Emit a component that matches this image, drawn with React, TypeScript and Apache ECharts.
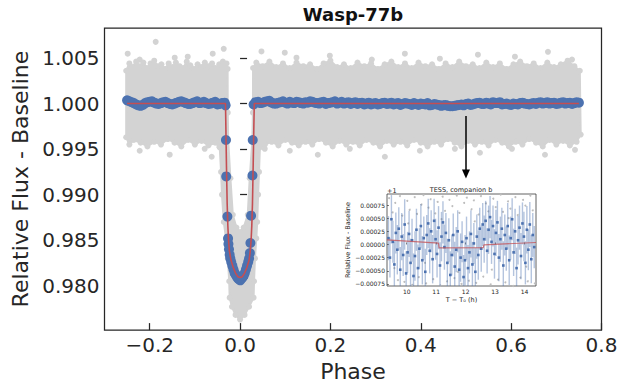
import React, { useEffect, useRef } from "react";
import * as echarts from "echarts";

// ---------- axis ticks ----------
const X_TICKS = [-0.2, 0.0, 0.2, 0.4, 0.6, 0.8];
const Y_TICKS = [0.98, 0.985, 0.99, 0.995, 1.0, 1.005];
const INSET_X_TICKS = [10, 11, 12, 13, 14];
const INSET_Y_TICKS = [-0.00075, -0.0005, -0.00025, 0, 0.00025, 0.0005, 0.00075];

// ---------- main panel: outline of the grey unbinned cloud (phase, flux) ----------
const CLOUD_OUTLINE: number[][] = [
  [-0.252, 1.0036], [-0.245, 1.0044], [-0.238, 1.004], [-0.23, 1.0046], [-0.222, 1.0041], [-0.214, 1.0045],
  [-0.206, 1.0039], [-0.198, 1.0044], [-0.19, 1.0047], [-0.182, 1.0041], [-0.174, 1.0043], [-0.166, 1.0038],
  [-0.158, 1.0044], [-0.15, 1.004], [-0.142, 1.0045], [-0.134, 1.0041], [-0.126, 1.0039], [-0.118, 1.0046],
  [-0.11, 1.0042], [-0.102, 1.0038], [-0.094, 1.0043], [-0.086, 1.004], [-0.078, 1.0045], [-0.07, 1.0041],
  [-0.062, 1.0044], [-0.054, 1.0039], [-0.046, 1.0043], [-0.038, 1.0046], [-0.03, 1.0044], [-0.0275, 1.0038],
  [-0.0272, 0.999], [-0.0262, 0.996], [-0.0213, 0.9918], [-0.016, 0.9878], [-0.008, 0.9864], [0.0, 0.9859],
  [0.008, 0.9864], [0.017, 0.9878], [0.0214, 0.9918], [0.0272, 0.996], [0.0285, 0.999],
  [0.0288, 1.0039], [0.036, 1.0045], [0.05, 1.0041], [0.065, 1.0046], [0.08, 1.004], [0.095, 1.0044],
  [0.11, 1.0039], [0.125, 1.0045], [0.14, 1.0041], [0.155, 1.0043], [0.17, 1.0038], [0.185, 1.0044],
  [0.2, 1.0047], [0.215, 1.004], [0.23, 1.0043], [0.245, 1.0039], [0.26, 1.0045], [0.275, 1.0041],
  [0.29, 1.0044], [0.305, 1.0038], [0.32, 1.0043], [0.335, 1.0046], [0.35, 1.004], [0.365, 1.0044],
  [0.38, 1.0039], [0.395, 1.0045], [0.41, 1.0041], [0.425, 1.0043], [0.44, 1.0038], [0.455, 1.0044],
  [0.47, 1.004], [0.485, 1.0046], [0.5, 1.0041], [0.515, 1.0043], [0.53, 1.0039], [0.545, 1.0045],
  [0.56, 1.004], [0.575, 1.0044], [0.59, 1.0038], [0.605, 1.0043], [0.62, 1.0046], [0.635, 1.0041],
  [0.65, 1.0044], [0.665, 1.0039], [0.68, 1.0045], [0.695, 1.004], [0.71, 1.0043], [0.725, 1.0047],
  [0.74, 1.0041], [0.752, 1.0036],
  [0.754, 0.9966],
  [0.745, 0.9958], [0.73, 0.9954], [0.715, 0.9959], [0.7, 0.9955], [0.685, 0.996], [0.67, 0.9953],
  [0.655, 0.9957], [0.64, 0.9961], [0.625, 0.9955], [0.61, 0.9958], [0.595, 0.9953], [0.58, 0.9957],
  [0.565, 0.996], [0.55, 0.9954], [0.535, 0.9958], [0.52, 0.9955], [0.505, 0.9959], [0.49, 0.9953],
  [0.475, 0.9957], [0.46, 0.9961], [0.445, 0.9955], [0.43, 0.9958], [0.415, 0.9953], [0.4, 0.9957],
  [0.385, 0.996], [0.37, 0.9954], [0.355, 0.9958], [0.34, 0.9955], [0.325, 0.9959], [0.31, 0.9953],
  [0.295, 0.9957], [0.28, 0.996], [0.265, 0.9954], [0.25, 0.9958], [0.235, 0.9955], [0.22, 0.9959],
  [0.205, 0.9953], [0.19, 0.9957], [0.175, 0.9961], [0.16, 0.9955], [0.145, 0.9958], [0.13, 0.9954],
  [0.115, 0.9957], [0.1, 0.996], [0.085, 0.9954], [0.07, 0.9958], [0.055, 0.9955],
  [0.044, 0.9952], [0.042, 0.9925], [0.04, 0.99], [0.038, 0.987], [0.036, 0.9852], [0.033, 0.983],
  [0.031, 0.9805], [0.03, 0.9787], [0.02, 0.9777], [0.01, 0.9768], [0.0, 0.9763], [-0.01, 0.9768],
  [-0.018, 0.9777], [-0.023, 0.9787], [-0.024, 0.9805], [-0.027, 0.983], [-0.031, 0.9852], [-0.036, 0.987],
  [-0.04, 0.99], [-0.042, 0.9925], [-0.045, 0.9952],
  [-0.055, 0.9957], [-0.07, 0.9954], [-0.085, 0.9959], [-0.1, 0.9955], [-0.115, 0.996], [-0.13, 0.9953],
  [-0.145, 0.9957], [-0.16, 0.9961], [-0.175, 0.9955], [-0.19, 0.9958], [-0.205, 0.9953], [-0.22, 0.9957],
  [-0.235, 0.996], [-0.245, 0.9955], [-0.252, 0.9963],
];

// isolated grey points outside the dense cloud
const GRAY_OUTLIERS: number[][] = [
  [-0.1867, 1.00677], [-0.2487, 1.00547], [-0.0361, 1.00601], [-0.0605, 1.00547], [-0.1158, 1.00514],
  [-0.2221, 1.00482], [-0.1446, 1.00503], [0.0474, 1.00572], [0.099, 1.00558], [0.1249, 1.00503],
  [0.1987, 1.00525], [0.2917, 1.00482], [0.3648, 1.00547], [0.4423, 1.00492], [0.5265, 1.00536],
  [0.6084, 1.00514], [0.6815, 1.00568], [0.7347, 1.00482],
  [-0.2221, 0.99482], [-0.1557, 0.99439], [-0.0782, 0.99503], [-0.0627, 0.99416], [-0.0455, 0.99525],
  [0.0547, 0.99503], [0.1101, 0.99482], [0.1721, 0.99438], [0.243, 0.99503], [0.3205, 0.99416],
  [0.398, 0.99482], [0.4755, 0.99503], [0.5309, 0.9946], [0.6018, 0.99503], [0.6749, 0.99438], [0.7413, 0.99492],
];

// binned points (blue)
const BLUE_PHASE = [
  -0.25, -0.24, -0.23, -0.22, -0.21, -0.2, -0.19, -0.18, -0.17, -0.16, -0.15, -0.14, -0.13, -0.12, -0.11,
  -0.1, -0.09, -0.08, -0.07, -0.06, -0.05, -0.04, -0.034,
  -0.032, -0.0312, -0.0306, -0.028, -0.0265, -0.0257, -0.0245, -0.023, -0.0215, -0.0195, -0.017, -0.0145,
  -0.012, -0.0095, -0.007, -0.0045, -0.002, 0.0005, 0.003, 0.0055, 0.008, 0.0105, 0.013, 0.0155, 0.018,
  0.02, 0.0218, 0.023, 0.0244, 0.0275, 0.0281, 0.03,
  0.034, 0.04, 0.05, 0.06, 0.07, 0.08, 0.09, 0.1, 0.11, 0.12, 0.13, 0.14, 0.15, 0.16, 0.17, 0.18, 0.19,
  0.2, 0.21, 0.22, 0.23, 0.24, 0.25, 0.26, 0.27, 0.28, 0.29, 0.3, 0.31, 0.32, 0.33, 0.34, 0.35, 0.36,
  0.37, 0.38, 0.39, 0.4, 0.41, 0.42, 0.43, 0.44, 0.45, 0.46, 0.47, 0.48, 0.49, 0.5, 0.51, 0.52, 0.53,
  0.54, 0.55, 0.56, 0.57, 0.58, 0.59, 0.6, 0.61, 0.62, 0.63, 0.64, 0.65, 0.66, 0.67, 0.68, 0.69, 0.7,
  0.71, 0.72, 0.73, 0.74, 0.75,
];
const BLUE_FLUX = [
  1.00035, 1.00015, 0.9999, 0.99975, 1.00005, 1.0002, 1.0001, 0.99995, 1.00015, 1.00005, 0.9999, 1.0001,
  1.00025, 1.00005, 0.99995, 1.00015, 1.00005, 1.0002, 0.99995, 1.0001, 0.9999, 1.00005, 1.0001,
  0.9998, 0.996, 0.992, 0.9876, 0.9852, 0.9846, 0.984, 0.9834, 0.983, 0.9826, 0.9822, 0.9818,
  0.9814, 0.9812, 0.981, 0.9808, 0.9807, 0.9806, 0.9808, 0.9809, 0.9811, 0.9814, 0.9818, 0.9822, 0.9826,
  0.983, 0.9836, 0.9847, 0.9877, 0.9921, 0.996, 0.9999,
  1.00015, 1.0002, 1.0001, 1.00025, 1.0001, 1.0, 1.00015, 1.0001, 1.0002, 1.00005, 1.00015, 1.0, 1.0001,
  1.0002, 1.00005, 1.00015, 0.99995, 1.0001, 1.00025, 1.0001, 1.0, 1.00015, 1.00005, 0.99995, 1.0001,
  1.0, 0.9999, 1.00005, 0.99995, 1.0001, 1.0, 0.9999, 1.00005, 0.99995, 1.0, 0.99985, 0.99995, 1.0,
  0.9999, 0.9998, 0.99995, 0.99985, 0.9998, 0.99975, 0.9997, 0.9998, 0.9999, 0.99995, 0.99985, 1.0,
  1.0001, 0.99995, 1.0, 1.00015, 1.00005, 0.9999, 1.0, 0.99985, 0.99995, 1.00005, 1.0, 0.9999, 1.00005,
  1.0001, 1.0, 1.00015, 1.00005, 0.99995, 1.0001, 1.0, 1.0001, 1.00005, 1.0001,
];
// additional binned points between the ones above (out of transit)
const BLUE_MID_PHASE = [
  -0.245, -0.235, -0.225, -0.215, -0.205, -0.195, -0.185, -0.175, -0.165, -0.155, -0.145, -0.135, -0.125,
  -0.115, -0.105, -0.095, -0.085, -0.075, -0.065, -0.055, -0.045,
  0.045, 0.055, 0.065, 0.075, 0.085, 0.095, 0.105, 0.115, 0.125, 0.135, 0.145, 0.155, 0.165, 0.175, 0.185,
  0.195, 0.205, 0.215, 0.225, 0.235, 0.245, 0.255, 0.265, 0.275, 0.285, 0.295, 0.305, 0.315, 0.325, 0.335,
  0.345, 0.355, 0.365, 0.375, 0.385, 0.395, 0.405, 0.415, 0.425, 0.435, 0.445, 0.455, 0.465, 0.475, 0.485,
  0.495, 0.505, 0.515, 0.525, 0.535, 0.545, 0.555, 0.565, 0.575, 0.585, 0.595, 0.605, 0.615, 0.625, 0.635,
  0.645, 0.655, 0.665, 0.675, 0.685, 0.695, 0.705, 0.715, 0.725, 0.735, 0.745,
];
const BLUE_MID_FLUX = [
  1.00025, 1.00005, 0.9998, 0.99985, 1.00015, 1.00025, 1.0, 1.00005, 1.0002, 0.99995, 1.0, 1.0002, 1.00015,
  0.99995, 1.00005, 1.00025, 1.0001, 1.00005, 1.0, 1.0002, 0.99995,
  1.00005, 1.0002, 1.0003, 1.0, 1.0001, 1.00025, 1.0, 1.0001, 1.0002, 1.00005, 1.00015, 1.00025, 1.0001,
  1.0, 1.0002, 1.00005, 1.00015, 1.0, 1.0002, 1.0001, 0.99995, 1.00015, 1.00005, 0.9999, 1.0001, 1.0,
  0.9999, 1.00005, 0.99995, 1.0001, 1.0, 0.99985, 1.00005, 0.99995, 1.00005, 0.99985, 0.99995, 1.00005,
  0.99985, 0.9999, 0.99975, 0.99985, 0.9997, 0.99975, 0.99985, 0.9998, 1.0, 0.9999, 1.00005, 0.99995,
  1.0001, 0.9999, 1.00005, 1.00015, 0.99995, 0.9999, 1.0, 0.9999, 1.0001, 0.99995, 1.0, 0.99995, 1.00015,
  1.00005, 1.0, 1.0001, 1.0, 1.00015, 1.00005, 0.99995, 1.00015,
];

// transit model (red)
const MODEL_PHASE = [
  -0.25, -0.0322, -0.0312, -0.03, -0.0285, -0.027, -0.0255, -0.0235, -0.02, -0.015, -0.01, -0.005, 0.0,
  0.005, 0.01, 0.015, 0.02, 0.0225, 0.0245, 0.026, 0.0275, 0.029, 0.0303, 0.0315, 0.75,
];
const MODEL_FLUX = [
  1.0, 1.0, 0.9968, 0.993, 0.989, 0.9866, 0.985, 0.9838, 0.9828, 0.982, 0.9814, 0.981, 0.9809,
  0.981, 0.9814, 0.982, 0.9828, 0.9838, 0.985, 0.9866, 0.989, 0.993, 0.9968, 1.0, 1.0,
];

const ARROW_START = [0.5, 0.99862];
const ARROW_END = [0.5, 0.99226];

// ---------- inset: TESS, companion b ----------
const INSET_GRAY: number[][] = [
  [9.4, 0.00088], [9.52, 0.00061], [9.61, 0.00079], [9.7, -0.00068], [9.77, 0.00092], [9.85, 0.00055],
  [9.92, -0.00071], [10.02, 0.00083], [10.1, 0.00066], [10.19, -0.00077], [10.27, 0.0009], [10.35, 0.00058],
  [10.41, -0.00062], [10.5, 0.00076], [10.57, 0.00094], [10.66, -0.00074], [10.74, 0.0007], [10.81, 0.00086],
  [10.9, -0.00066], [10.97, 0.00059], [11.05, 0.00081], [11.14, -0.00078], [11.22, 0.00091], [11.3, 0.00064],
  [11.37, -0.0007], [11.45, 0.00085], [11.55, 0.00073], [11.62, -0.00064], [11.7, 0.00093], [11.79, 0.0006],
  [11.86, -0.00075], [11.95, 0.00079], [12.04, 0.00089], [12.11, -0.00069], [12.2, 0.00067], [12.28, 0.00084],
  [12.36, -0.00073], [12.44, 0.00057], [12.52, 0.00092], [12.6, -0.00061], [12.69, 0.00078], [12.77, 0.00063],
  [12.85, -0.00076], [12.94, 0.00087], [13.02, 0.00071], [13.1, -0.00067], [13.19, 0.00095], [13.27, 0.00062],
  [13.35, -0.00072], [13.44, 0.00082], [13.52, 0.00068], [13.61, -0.00079], [13.69, 0.0009], [13.77, 0.00056],
  [13.86, -0.00063], [13.95, 0.00085], [14.03, 0.00074], [14.11, -0.0007], [14.2, 0.00093], [14.28, 0.00065],
  [14.35, -0.00074], [9.58, -0.00045], [10.05, 0.0004], [10.62, -0.00035], [11.18, 0.00048], [11.74, -0.00052],
  [12.31, 0.00044], [12.89, -0.00048], [13.46, 0.0005], [14.06, -0.00042],
];

const INSET_HOURS = [
  9.38, 9.43, 9.48, 9.53, 9.58, 9.63, 9.68, 9.73, 9.78, 9.83, 9.88, 9.93, 9.98, 10.03, 10.08, 10.13, 10.18,
  10.23, 10.28, 10.33, 10.38, 10.43, 10.48, 10.53, 10.58, 10.63, 10.68, 10.73, 10.78, 10.83, 10.88, 10.93,
  10.98, 11.03, 11.08, 11.13, 11.18, 11.23, 11.28, 11.33, 11.38, 11.43, 11.48, 11.53, 11.58, 11.63, 11.68,
  11.73, 11.78, 11.83, 11.88, 11.93, 11.98, 12.03, 12.08, 12.13, 12.18, 12.23, 12.28, 12.33, 12.38, 12.43,
  12.48, 12.53, 12.58, 12.63, 12.68, 12.73, 12.78, 12.83, 12.88, 12.93, 12.98, 13.03, 13.08, 13.13, 13.18,
  13.23, 13.28, 13.33, 13.38, 13.43, 13.48, 13.53, 13.58, 13.63, 13.68, 13.73, 13.78, 13.83, 13.88, 13.93,
  13.98, 14.03, 14.08, 14.13, 14.18, 14.23, 14.28, 14.33,
];
const INSET_FLUX_PPM = [
  120, -250, 480, 50, -380, 220, -100, 300, -480, 150,
  -200, 380, -550, -150, 200, -350, 80, -600, -220, 280,
  -450, -80, 350, -300, 120, -520, 180, 400, -120, 250,
  -280, 450, 100, -180, 320, -400, 150, 420, -50, 220,
  -350, 80, -580, -200, 180, -420, -100, 250, -480, -250,
  50, -620, -300, 120, -450, -150, 200, -380, 20, -520,
  150, -200, 300, -80, 380, 100, 450, -120, 280, 520,
  50, 350, -180, 220, 420, -250, 100, 300, -400, 180,
  -80, 350, -300, 120, 480, -150, 250, -450, 80, 320,
  -220, 400, 150, -350, 280, -100, 380, -280, 180, -50,
];
const INSET_ERR_PPM = [
  420, 380, 460, 400, 440, 390, 470, 410, 430, 450,
  400, 480, 420, 390, 440, 460, 410, 430, 470, 400,
  450, 390, 420, 460, 410, 440, 380, 470, 430, 400,
  460, 420, 390, 450, 410, 440, 470, 400, 430, 380,
  460, 420, 450, 390, 410, 470, 430, 400, 440, 460,
  390, 420, 480, 410, 440, 400, 450, 430, 390, 460,
  420, 470, 400, 440, 410, 450, 380, 430, 460, 400,
  420, 390, 470, 440, 410, 450, 430, 400, 460, 390,
  420, 440, 470, 410, 400, 450, 430, 390, 460, 420,
  440, 400, 470, 410, 450, 390, 430, 460, 420, 400,
];
const INSET_MODEL_HOURS = [9.33, 11.08, 11.1, 12.6, 12.62, 14.39];
const INSET_MODEL_PPM = [88, 24, -65, -62, -6, 37];

// ---------- styles ----------
const FONT = "DejaVu Sans";
const INK = "#262626";
const GRAY = "#d3d3d3";
const BLUE = "#4C72B0";
const RED = "#C44E52";

const withMinus = (v: number, d: number) => {
  const s = Math.abs(v).toFixed(d);
  return v < -1e-12 ? "\u2212" + s : s;
};

function buildOption() {
  const blue = BLUE_PHASE.map((p, i) => [p, BLUE_FLUX[i]]).concat(
    BLUE_MID_PHASE.map((p, i) => [p, BLUE_MID_FLUX[i]])
  );
  const model = MODEL_PHASE.map((p, i) => [p, MODEL_FLUX[i]]);
  const insetPts = INSET_HOURS.map((h, i) => [h, INSET_FLUX_PPM[i] / 1e6, INSET_ERR_PPM[i] / 1e6]);
  const insetModel = INSET_MODEL_HOURS.map((h, i) => [h, INSET_MODEL_PPM[i] / 1e6]);

  return {
    animation: false,
    textStyle: { fontFamily: FONT },
    grid: [
      { left: 104.5, top: 28, right: 36.5, bottom: 54, show: true, borderColor: INK, borderWidth: 1.25, backgroundColor: "transparent" },
      { left: 387, top: 194, width: 149, height: 92, show: true, borderColor: "#3a3a3a", borderWidth: 0.8, backgroundColor: "#ffffff" },
    ],
    xAxis: [
      {
        type: "value", gridIndex: 0, min: -0.3, max: 0.8,
        axisLine: { show: false },
        splitLine: { show: false },
        axisTick: { show: true, inside: true, length: 7, customValues: X_TICKS, lineStyle: { color: INK, width: 1.25 } },
        axisLabel: { customValues: X_TICKS, fontSize: 20, color: INK, margin: 5, fontFamily: FONT, formatter: (v: number) => withMinus(v, 1) },
        name: "Phase", nameLocation: "middle", nameGap: 29,
        nameTextStyle: { fontSize: 22, color: INK, fontFamily: FONT },
      },
      {
        type: "value", gridIndex: 1, min: 9.33, max: 14.39,
        axisLine: { show: false },
        splitLine: { show: false },
        axisTick: { show: true, inside: true, length: 2, customValues: INSET_X_TICKS, lineStyle: { color: INK, width: 0.6 } },
        axisLabel: { customValues: INSET_X_TICKS, fontSize: 6, color: INK, margin: 2, fontFamily: FONT, formatter: (v: number) => String(Math.round(v)) },
        name: "T \u2212 T\u2080 (h)", nameLocation: "middle", nameGap: 10,
        nameTextStyle: { fontSize: 6.5, color: INK, fontFamily: FONT },
      },
    ],
    yAxis: [
      {
        type: "value", gridIndex: 0, min: 0.97514, max: 1.00829,
        axisLine: { show: false },
        splitLine: { show: false },
        axisTick: { show: true, inside: true, length: 7, customValues: Y_TICKS, lineStyle: { color: INK, width: 1.25 } },
        axisLabel: { customValues: Y_TICKS, fontSize: 20, color: INK, margin: 5, fontFamily: FONT, formatter: (v: number) => v.toFixed(3) },
        name: "Relative Flux - Baseline", nameLocation: "middle", nameGap: 61,
        nameTextStyle: { fontSize: 22, color: INK, fontFamily: FONT },
      },
      {
        type: "value", gridIndex: 1, min: -0.00079, max: 0.00096,
        axisLine: { show: false },
        splitLine: { show: false },
        axisTick: { show: true, inside: true, length: 2, customValues: INSET_Y_TICKS, lineStyle: { color: INK, width: 0.6 } },
        axisLabel: { customValues: INSET_Y_TICKS, fontSize: 6, color: INK, margin: 2, fontFamily: FONT, formatter: (v: number) => withMinus(v, 5) },
        name: "Relative Flux - Baseline", nameLocation: "middle", nameGap: 28,
        nameTextStyle: { fontSize: 6.5, color: INK, fontFamily: FONT },
      },
    ],
    graphic: [
      { type: "text", x: 353, y: 14, z: 10, style: { text: "Wasp-77b", fill: "#111", font: `bold 18px "${FONT}"`, textAlign: "center", textVerticalAlign: "middle" } },
      { type: "text", x: 461, y: 189.5, z: 10, style: { text: "TESS, companion b", fill: INK, font: `6.5px "${FONT}"`, textAlign: "center", textVerticalAlign: "middle" } },
      { type: "text", x: 387, y: 191, z: 10, style: { text: "+1", fill: INK, font: `6.5px "${FONT}"`, textAlign: "left", textVerticalAlign: "middle" } },
    ],
    series: [
      {
        type: "custom", xAxisIndex: 0, yAxisIndex: 0, silent: true, z: 1,
        data: [[0, 1]],
        renderItem: (_params: any, api: any) => ({
          type: "polygon",
          shape: { points: CLOUD_OUTLINE.map((p) => api.coord(p)) },
          style: { fill: GRAY, stroke: GRAY, lineWidth: 2, lineJoin: "round" },
        }),
      },
      {
        type: "scatter", xAxisIndex: 0, yAxisIndex: 0, silent: true, z: 1,
        symbol: "circle", symbolSize: 6, itemStyle: { color: GRAY, opacity: 1 },
        data: GRAY_OUTLIERS.concat(CLOUD_OUTLINE),
      },
      {
        type: "scatter", xAxisIndex: 0, yAxisIndex: 0, silent: true, z: 2,
        symbol: "circle", symbolSize: 10, itemStyle: { color: BLUE, opacity: 1 },
        data: blue,
      },
      {
        type: "line", xAxisIndex: 0, yAxisIndex: 0, silent: true, z: 3,
        showSymbol: false, symbol: "none",
        lineStyle: { color: RED, width: 1.6 },
        data: model,
        markLine: {
          silent: true, animation: false,
          symbol: ["none", "triangle"], symbolSize: [8, 9],
          lineStyle: { color: "#000", width: 1.5, type: "solid" },
          itemStyle: { color: "#000" },
          label: { show: false },
          emphasis: { disabled: true },
          data: [[{ coord: ARROW_START }, { coord: ARROW_END }]],
        },
      },
      // inset
      {
        type: "scatter", xAxisIndex: 1, yAxisIndex: 1, silent: true, z: 4,
        symbol: "circle", symbolSize: 2, itemStyle: { color: "#bdbdbd", opacity: 1 },
        data: INSET_GRAY, clip: true,
      },
      {
        type: "custom", xAxisIndex: 1, yAxisIndex: 1, silent: true, z: 5,
        data: insetPts,
        encode: { x: 0, y: 1 },
        renderItem: (params: any, api: any) => {
          const cs = params.coordSys;
          const x = api.value(0), y = api.value(1), e = api.value(2);
          const a = api.coord([x, y - e]);
          const b = api.coord([x, y + e]);
          const clampY = (v: number) => Math.max(cs.y, Math.min(cs.y + cs.height, v));
          return {
            type: "line",
            shape: { x1: a[0], y1: clampY(a[1]), x2: b[0], y2: clampY(b[1]) },
            style: { stroke: "rgba(76,114,176,0.42)", lineWidth: 1.4 },
          };
        },
      },
      {
        type: "scatter", xAxisIndex: 1, yAxisIndex: 1, silent: true, z: 6,
        symbol: "rect", symbolSize: 2.6, itemStyle: { color: BLUE, opacity: 1 },
        data: insetPts.map((d) => [d[0], d[1]]), clip: true,
      },
      {
        type: "line", xAxisIndex: 1, yAxisIndex: 1, silent: true, z: 7,
        showSymbol: false, symbol: "none",
        lineStyle: { color: "rgba(196,78,82,0.75)", width: 1.2 },
        data: insetModel, clip: true,
      },
    ],
  };
}

export default function App() {
  const ref = useRef<HTMLDivElement>(null);
  useEffect(() => {
    document.body.style.margin = "0";
    const chart = echarts.init(ref.current!, undefined, { renderer: "svg" });
    chart.setOption(buildOption() as any);
    return () => chart.dispose();
  }, []);
  return <div ref={ref} style={{ width: 638, height: 387 }} />;
}
